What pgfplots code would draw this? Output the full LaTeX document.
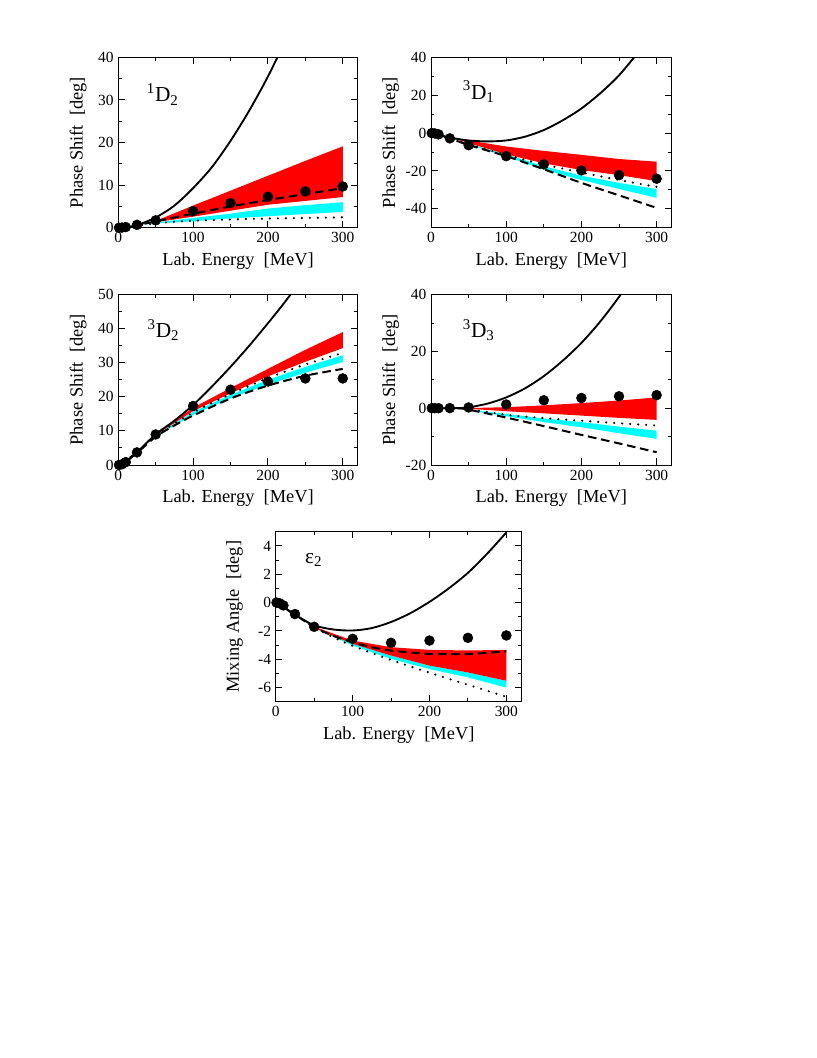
\documentclass[border=0pt]{standalone}
\usepackage{fontspec}
\setmainfont{Liberation Serif}
\usepackage{pgfplots}
\pgfplotsset{compat=1.18}
\definecolor{bandred}{RGB}{255,0,0}
\definecolor{bandcyan}{RGB}{0,255,255}
\tikzset{plabel/.style={anchor=base west, font=\fontsize{16}{18}\selectfont}}
\pgfplotsset{
  panel/.style={
    scale only axis, width=180pt, height=127.8pt,
    xmin=0, xmax=320,
    xtick={0,100,200,300}, xticklabels={0,100,200,300},
    minor xtick={50,150,250},
    tick align=inside, tick pos=both,
    major tick length=5pt, minor tick length=2.6pt,
    every tick/.style={black, line width=0.75pt},
    axis line style={line width=0.75pt},
    tick label style={font=\fontsize{11.6}{13}\selectfont},
    label style={font=\fontsize{13.8}{15}\selectfont},
    xlabel={Lab. Energy\ \ [MeV]},
    xlabel style={at={(axis description cs:0.5,-0.195)},anchor=center},
    ylabel style={at={(axis description cs:-0.168,0.5)},anchor=center},
  },
  solidc/.style={black, line width=1.4pt, smooth},
  dashedc/.style={black, line width=1.5pt, smooth, dash pattern=on 6.5pt off 3.5pt},
  dottedc/.style={black, line width=1.8pt, smooth, line cap=round, dash pattern=on 0pt off 6pt},
  dots/.style={only marks, mark=*, mark size=3.7pt, black},
  redband/.style={fill=bandred, draw=none},
  cyanband/.style={fill=bandcyan, draw=none},
}
\begin{document}
\begin{tikzpicture}
\path[use as bounding box] (0,0) rectangle (612.75pt,-793.5pt);

% ---------- 1D2 ----------
\begin{axis}[panel, at={(88.7pt,-170.8pt)}, anchor=south west, width=179.6pt,
  ymin=0, ymax=40, ytick={0,10,20,30,40}, yticklabels={0,10,20,30,40},
  minor ytick={5,15,25,35}, ylabel={Phase Shift\ \ [deg]}]
\addplot[cyanband] coordinates {(35,0.8)(50,1.2)(100,2.3)(150,3.3)(200,4.5)(250,5.3)(300,6.0)
  (300,3.7)(250,3.2)(200,2.7)(150,2.2)(100,1.5)(50,1.0)(35,0.75)} -- cycle;
\addplot[redband] coordinates {(28,0.7)(50,1.6)(100,5.2)(150,8.7)(200,12.2)(250,15.7)(300,19.1)
  (300,7.2)(250,6.3)(200,5.4)(150,4.0)(100,2.6)(50,1.3)(28,0.65)} -- cycle;
\addplot[dottedc] coordinates {(0,0)(25,0.5)(50,1.0)(75,1.4)(100,1.65)(150,1.95)(200,2.15)(250,2.3)(300,2.45)};
\addplot[dashedc] coordinates {(0,0)(10,0.1)(25,0.6)(50,1.5)(75,2.4)(100,3.3)(150,5.0)(200,6.5)(250,7.9)(300,9.3)};
\addplot[solidc] coordinates {(0,0)(10,0.1)(25,0.6)(50,2.4)(75,5.2)(100,9.3)(125,14.2)(150,20.4)(175,27.5)(200,35.5)(225,44.6)(250,54.6)};
\addplot[dots] coordinates {(1,0.0)(5,0.04)(10,0.16)(25,0.68)(50,1.73)(100,3.9)(150,5.79)(200,7.29)(250,8.53)(300,9.69)};
\node[plabel] at (rel axis cs:0.10,0.74) {\textsuperscript{1}D\textsubscript{2}};
\end{axis}

% ---------- 3D1 ----------
\begin{axis}[panel, at={(323.25pt,-170.8pt)}, anchor=south west, width=180.5pt,
  ymin=-50, ymax=40, ytick={-40,-20,0,20,40}, yticklabels={-40,-20,0,20,40},
  minor ytick={-50,-30,-10,10,30}, ylabel={Phase Shift\ \ [deg]}]
\addplot[cyanband] coordinates {(40,-4.3)(50,-5.5)(100,-11.2)(150,-17.5)(200,-22.5)(250,-26.3)(300,-29.6)
  (300,-34.2)(250,-29.5)(200,-24.8)(150,-19.3)(100,-12.4)(50,-6.0)(40,-4.6)} -- cycle;
\addplot[redband] coordinates {(35,-2.8)(50,-3.9)(100,-7.1)(150,-9.4)(200,-11.5)(250,-13.7)(300,-15.1)
  (300,-25.4)(250,-22.2)(200,-19.5)(150,-16.0)(100,-11.2)(50,-5.3)(35,-3.4)} -- cycle;
\addplot[dottedc] coordinates {(0,0)(25,-2.7)(50,-6.0)(100,-11.5)(150,-16.6)(200,-20.8)(250,-24.8)(300,-28.4)};
\addplot[dashedc] coordinates {(0,0)(25,-2.8)(50,-6.3)(100,-12.2)(150,-19.1)(200,-26.3)(250,-32.9)(300,-39.5)};
\addplot[solidc] coordinates {(0,0)(10,-0.8)(25,-2.4)(50,-3.9)(75,-4.4)(100,-3.9)(125,-1.9)(150,1.6)(175,6.7)(200,13.0)(225,21.0)(250,30.5)(275,42.5)(290,51)};
\addplot[dots] coordinates {(1,-0.01)(5,-0.18)(10,-0.68)(25,-2.8)(50,-6.4)(100,-12.2)(150,-16.5)(200,-19.7)(250,-22.2)(300,-24.1)};
\node[plabel] at (rel axis cs:0.113,0.755) {\textsuperscript{3}D\textsubscript{1}};
\end{axis}

% ---------- 3D2 ----------
\begin{axis}[panel, at={(88.7pt,-348.75pt)}, anchor=south west, width=179.6pt,
  ymin=0, ymax=50, ytick={0,10,20,30,40,50}, yticklabels={0,10,20,30,40,50},
  minor ytick={5,15,25,35,45}, ylabel={Phase Shift\ \ [deg]}]
\addplot[cyanband] coordinates {(40,7.2)(50,8.7)(100,15.6)(150,20.6)(200,25.0)(250,28.8)(300,32.2)
  (300,30.2)(250,27.1)(200,23.6)(150,19.6)(100,14.7)(50,8.4)(40,7.0)} -- cycle;
\addplot[redband] coordinates {(45,8.2)(50,9.0)(100,16.8)(150,22.6)(200,28.2)(250,33.8)(300,39)
  (300,34.3)(250,30.3)(200,26.0)(150,21.0)(100,15.8)(50,8.8)(45,8.0)} -- cycle;
\addplot[dottedc] coordinates {(0,0)(25,3.65)(50,8.6)(100,15.4)(150,20.8)(200,25.5)(250,29.5)(300,32.9)};
\addplot[dashedc] coordinates {(0,0)(25,3.6)(50,8.3)(75,11.6)(100,14.5)(150,19.5)(200,23.3)(250,26.2)(300,28.2)};
\addplot[solidc] coordinates {(0,0)(10,0.85)(25,3.7)(50,9.0)(75,13.0)(100,17.6)(125,23.0)(150,28.8)(175,35.0)(200,41.6)(225,48.5)(250,56)};
\addplot[dots] coordinates {(1,0.01)(5,0.22)(10,0.85)(25,3.7)(50,8.97)(100,17.3)(150,22.1)(200,24.5)(250,25.4)(300,25.4)};
\node[plabel] at (rel axis cs:0.103,0.749) {\textsuperscript{3}D\textsubscript{2}};
\end{axis}

% ---------- 3D3 ----------
\begin{axis}[panel, at={(323.25pt,-348.75pt)}, anchor=south west, width=180.5pt,
  ymin=-20, ymax=40, ytick={-20,0,20,40}, yticklabels={-20,0,20,40},
  minor ytick={-10,10,30}, ylabel={Phase Shift\ \ [deg]}]
\addplot[cyanband] coordinates {(40,-0.1)(50,-0.5)(100,-2.0)(150,-3.6)(200,-4.9)(250,-6.5)(300,-7.9)
  (300,-10.8)(250,-8.8)(200,-6.7)(150,-4.9)(100,-2.8)(50,-0.8)(40,-0.2)} -- cycle;
\addplot[redband] coordinates {(45,0)(50,0.05)(100,0.35)(150,1.0)(200,1.8)(250,2.7)(300,3.8)
  (300,-4.1)(250,-3.4)(200,-2.6)(150,-1.8)(100,-1.05)(50,-0.2)(45,-0.05)} -- cycle;
\addplot[dottedc] coordinates {(0,0)(40,0)(50,-0.3)(100,-2.3)(150,-3.5)(200,-4.4)(250,-5.3)(300,-6.1)};
\addplot[dashedc] coordinates {(0,0)(25,0)(40,-0.1)(50,-0.5)(100,-3.3)(150,-6.3)(200,-9.4)(250,-12.4)(300,-15.5)};
\addplot[solidc] coordinates {(0,0)(25,0)(40,0.05)(50,0.3)(75,1.6)(100,3.8)(125,7.0)(150,11.3)(175,16.7)(200,23.0)(225,30.5)(250,39.2)(275,49)};
\addplot[dots] coordinates {(1,0)(5,0)(10,0.01)(25,0.04)(50,0.27)(100,1.3)(150,2.8)(200,3.6)(250,4.2)(300,4.6)};
\node[plabel] at (rel axis cs:0.113,0.749) {\textsuperscript{3}D\textsubscript{3}};
\end{axis}

% ---------- epsilon 2 ----------
\begin{axis}[panel, at={(206.8pt,-526.3pt)}, anchor=south west, width=184.5pt, height=127.5pt,
  ymin=-7, ymax=5, ytick={-6,-4,-2,0,2,4}, yticklabels={-6,-4,-2,0,2,4},
  minor ytick={-7,-5,-3,-1,1,3,5}, ylabel={Mixing Angle\ \ [deg]}]
\addplot[cyanband] coordinates {(35,-1.2)(50,-1.75)(100,-2.9)(150,-3.74)(200,-4.45)(250,-4.93)(300,-5.52)
  (300,-6.0)(250,-5.28)(200,-4.69)(150,-3.98)(100,-3.03)(50,-1.8)(35,-1.25)} -- cycle;
\addplot[redband] coordinates {(35,-1.15)(50,-1.7)(100,-2.68)(150,-3.15)(200,-3.34)(250,-3.38)(300,-3.34)
  (300,-5.52)(250,-4.93)(200,-4.45)(150,-3.74)(100,-2.91)(50,-1.8)(35,-1.2)} -- cycle;
\addplot[dottedc] coordinates {(0,0)(25,-0.85)(50,-1.75)(75,-2.45)(100,-3.05)(150,-4.05)(200,-4.95)(250,-5.8)(300,-6.65)};
\addplot[dashedc] coordinates {(0,0)(25,-0.85)(50,-1.73)(75,-2.35)(100,-2.8)(125,-3.15)(150,-3.39)(200,-3.62)(250,-3.63)(300,-3.44)};
\addplot[solidc] coordinates {(0,0)(10,-0.3)(25,-0.85)(50,-1.6)(75,-1.9)(100,-1.97)(125,-1.8)(150,-1.37)(175,-0.75)(200,0.05)(225,1.0)(250,2.1)(275,3.45)(300,4.95)};
\addplot[dots] coordinates {(1,0)(5,-0.05)(10,-0.2)(25,-0.81)(50,-1.71)(100,-2.56)(150,-2.84)(200,-2.68)(250,-2.49)(300,-2.32)};
\node[plabel] at (rel axis cs:0.10,0.814) {ε\textsubscript{2}};
\end{axis}
\end{tikzpicture}
\end{document}
